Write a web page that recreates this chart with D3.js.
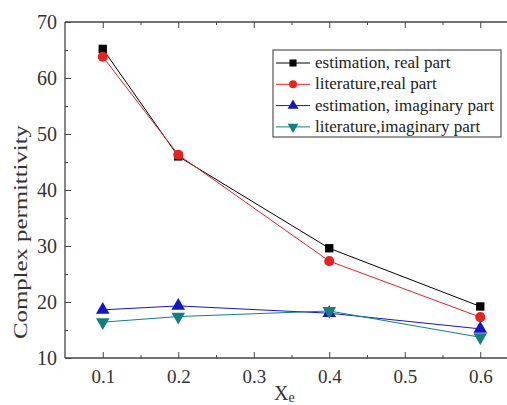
<!DOCTYPE html>
<html>
<head>
<meta charset="utf-8">
<script src="https://cdn.jsdelivr.net/npm/d3@7"></script>
<style>
  body { margin: 0; background: #fff; }
</style>
</head>
<body>
<div id="container"></div>
<script>
// data
const xValues = [0.1, 0.2, 0.4, 0.6];
const estReal = [65.2, 46.0, 29.6, 19.2];
const litReal = [63.8, 46.3, 27.3, 17.3];
const estImag = [18.6, 19.3, 18.0, 15.2];
const litImag = [16.4, 17.4, 18.4, 13.7];
const xTicks = [0.1, 0.2, 0.3, 0.4, 0.5, 0.6];
const yTicks = [10, 20, 30, 40, 50, 60, 70];

const seriesNames = ['estimation, real part', 'literature,real part',
                     'estimation, imaginary part', 'literature,imaginary part'];
const seriesValues = [estReal, litReal, estImag, litImag];
const seriesColors = ['#000000', '#e8231f', '#1515c8', '#138080'];
const seriesSymbols = [d3.symbolSquare, d3.symbolCircle, d3.symbolTriangle, 'down'];

const FONT = '"Liberation Serif", "Times New Roman", "DejaVu Serif", serif';
const width = 507;
const height = 405;

const svg = d3.select('#container')
              .append('svg')
              .attr('width', width)
              .attr('height', height)
              .attr('font-family', FONT);

// scales (right border of the frame falls outside the picture)
const xScale = d3.scaleLinear().domain([0.05, 0.65]).range([65, 518]);
const yScale = d3.scaleLinear().domain([10, 70]).range([358, 22]);

// frame
const frame = svg.append('g').attr('stroke', '#444').attr('stroke-width', 1.3).attr('fill', 'none');
frame.append('line').attr('x1', 65).attr('x2', 65).attr('y1', 22).attr('y2', 358);
frame.append('line').attr('x1', 65).attr('x2', width).attr('y1', 358).attr('y2', 358);
frame.append('line').attr('x1', 65).attr('x2', width).attr('y1', 22).attr('y2', 22);

// x ticks, major + minor, bottom and top, pointing inwards
const xMinor = d3.range(0.15, 0.65, 0.1);
const xAxis = d3.axisBottom(xScale).tickValues(xTicks).tickSize(-6).tickPadding(12)
                .tickFormat(d3.format('.1f'));
const gx = svg.append('g').attr('transform', 'translate(0,358)').call(xAxis)
              .attr('font-family', FONT);
gx.select('.domain').remove();
gx.selectAll('line').attr('stroke', '#444');
gx.selectAll('text').attr('font-size', 19).attr('fill', '#333');
svg.append('g').attr('transform', 'translate(0,358)')
   .call(d3.axisBottom(xScale).tickValues(xMinor).tickSize(-3).tickFormat(''))
   .call(g => g.select('.domain').remove())
   .selectAll('line').attr('stroke', '#444');
svg.append('g').attr('transform', 'translate(0,22)')
   .call(d3.axisTop(xScale).tickValues(xTicks).tickSize(-6).tickFormat(''))
   .call(g => g.select('.domain').remove())
   .selectAll('line').attr('stroke', '#444');
svg.append('g').attr('transform', 'translate(0,22)')
   .call(d3.axisTop(xScale).tickValues(xMinor).tickSize(-3).tickFormat(''))
   .call(g => g.select('.domain').remove())
   .selectAll('line').attr('stroke', '#444');

// y ticks
const yAxis = d3.axisLeft(yScale).tickValues(yTicks).tickSize(-6).tickPadding(8);
const gy = svg.append('g').attr('transform', 'translate(65,0)').call(yAxis)
              .attr('font-family', FONT);
gy.select('.domain').remove();
gy.selectAll('line').attr('stroke', '#444');
gy.selectAll('text').attr('font-size', 20).attr('fill', '#333');
svg.append('g').attr('transform', 'translate(65,0)')
   .call(d3.axisLeft(yScale).tickValues(d3.range(15, 70, 10)).tickSize(-3).tickFormat(''))
   .call(g => g.select('.domain').remove())
   .selectAll('line').attr('stroke', '#444');

// axis titles
svg.append('text')
   .attr('transform', 'translate(27,232) rotate(-90)')
   .attr('text-anchor', 'middle')
   .attr('font-size', 18)
   .attr('textLength', 214)
   .attr('lengthAdjust', 'spacingAndGlyphs')
   .attr('fill', '#333')
   .text('Complex permittivity');
const xt = svg.append('text')
   .attr('x', 274).attr('y', 400)
   .attr('font-size', 20)
   .attr('fill', '#333');
xt.append('tspan').text('X');
xt.append('tspan').attr('font-size', 14).attr('dy', 2).text('e');

// series
function symbolPath(sym, size) {
  if (sym === 'down') return d3.symbol(d3.symbolTriangle, size)();
  return d3.symbol(sym, size)();
}

const line = d3.line()
               .x((d, i) => xScale(xValues[i]))
               .y(d => yScale(d));

seriesValues.forEach((vals, s) => {
  svg.append('path')
     .datum(vals)
     .attr('d', line)
     .attr('fill', 'none')
     .attr('stroke', seriesColors[s])
     .attr('stroke-width', 1);
  svg.selectAll('.m' + s)
     .data(vals)
     .enter()
     .append('path')
     .attr('class', 'm' + s)
     .attr('d', symbolPath(seriesSymbols[s], s === 0 ? 70 : 80))
     .attr('transform', (d, i) => `translate(${xScale(xValues[i])},${yScale(d)})` +
                                  (seriesSymbols[s] === 'down' ? ' rotate(180)' : ''))
     .attr('fill', seriesColors[s]);
});

// legend
const legend = svg.append('g').attr('transform', 'translate(273,50)');
legend.append('rect')
      .attr('width', 228).attr('height', 87)
      .attr('fill', '#fff').attr('stroke', '#555').attr('stroke-width', 1.2);
seriesNames.forEach((name, s) => {
  const y = 13 + s * 21.3;
  legend.append('line')
        .attr('x1', 3).attr('x2', 37).attr('y1', y).attr('y2', y)
        .attr('stroke', seriesColors[s]).attr('stroke-width', 1);
  legend.append('path')
        .attr('d', symbolPath(seriesSymbols[s], 50))
        .attr('transform', `translate(20,${y})` + (seriesSymbols[s] === 'down' ? ' rotate(180)' : ''))
        .attr('fill', seriesColors[s]);
  legend.append('text')
        .attr('x', 42).attr('y', y + 5)
        .attr('font-size', 17)
        .attr('fill', '#222')
        .text(name);
});
</script>
</body>
</html>
